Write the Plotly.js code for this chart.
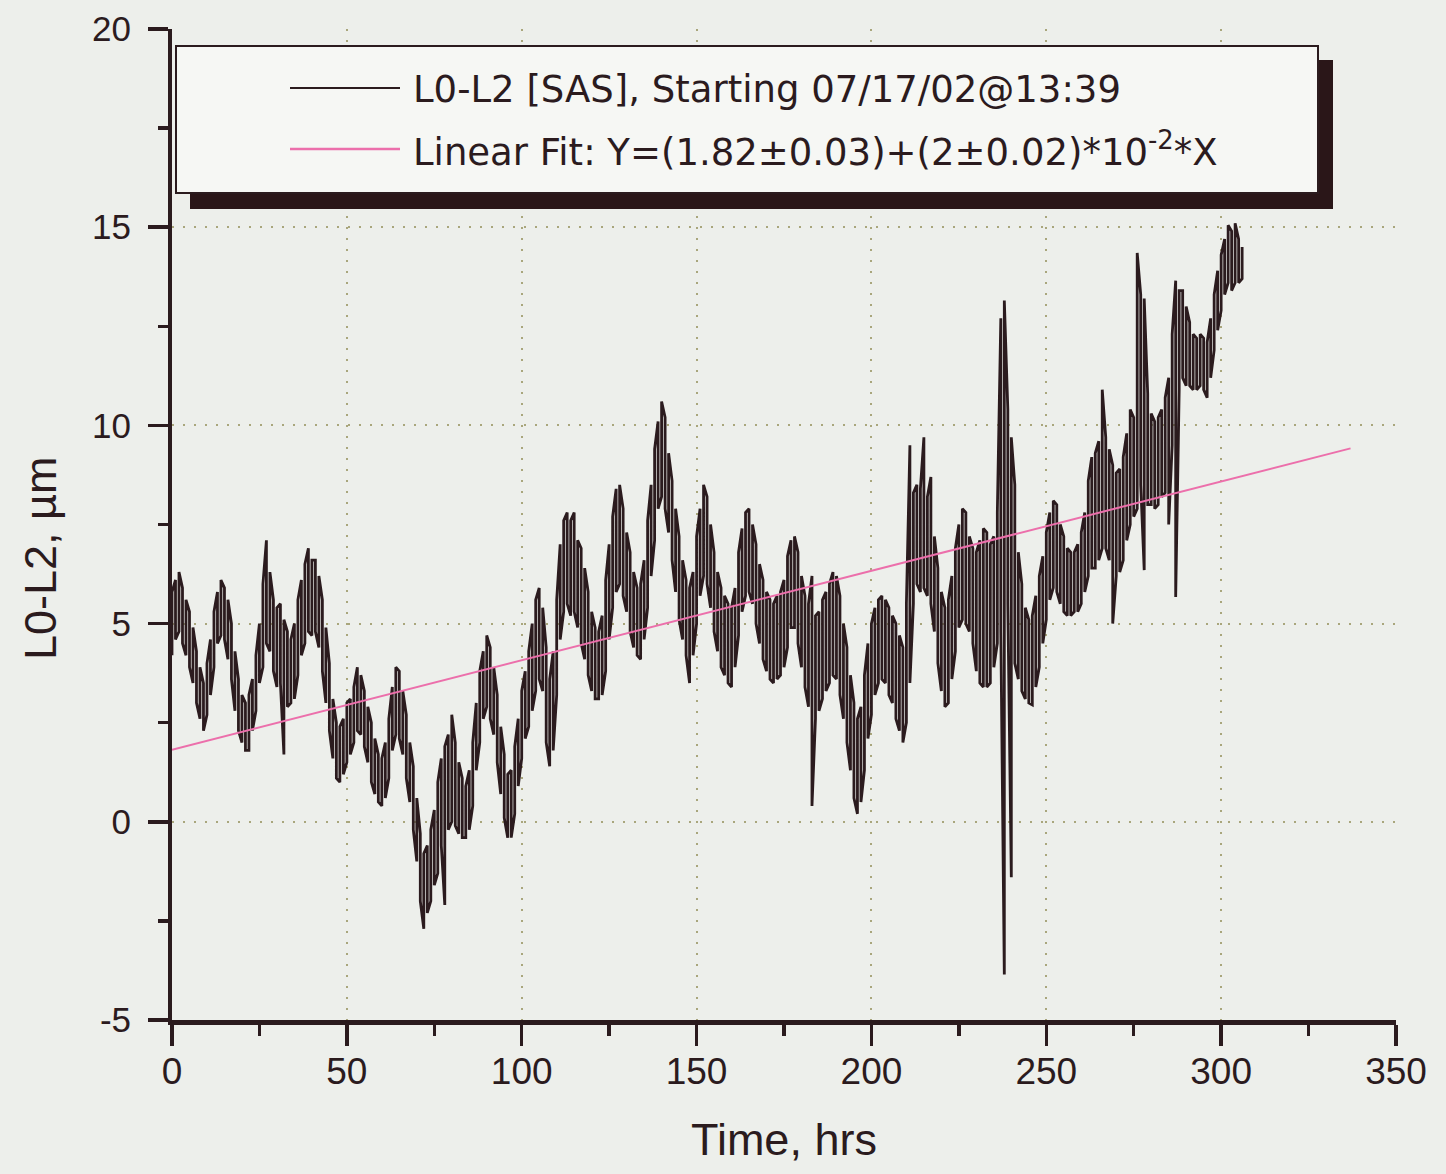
<!DOCTYPE html>
<html>
<head>
<meta charset="utf-8">
<script src="https://cdn.plot.ly/plotly-3.0.1.min.js"></script>
<style>
  html, body { margin: 0; padding: 0; background: #edefeb; }
  #chart { width: 1446px; height: 1174px; }
</style>
</head>
<body>
<div id="chart"></div>
<script>
// ---- Data ----
const hours = [
  0,1,2,3,4,5,6,7,8,9,10,11,12,13,14,15,16,17,18,19,
  20,21,22,23,24,25,26,27,28,29,30,31,32,33,34,35,36,37,38,39,
  40,41,42,43,44,45,46,47,48,49,50,51,52,53,54,55,56,57,58,59,
  60,61,62,63,64,65,66,67,68,69,70,71,72,73,74,75,76,77,78,79,
  80,81,82,83,84,85,86,87,88,89,90,91,92,93,94,95,96,97,98,99,
  100,101,102,103,104,105,106,107,108,109,110,111,112,113,114,115,116,117,118,119,
  120,121,122,123,124,125,126,127,128,129,130,131,132,133,134,135,136,137,138,139,
  140,141,142,143,144,145,146,147,148,149,150,151,152,153,154,155,156,157,158,159,
  160,161,162,163,164,165,166,167,168,169,170,171,172,173,174,175,176,177,178,179,
  180,181,182,183,184,185,186,187,188,189,190,191,192,193,194,195,196,197,198,199,
  200,201,202,203,204,205,206,207,208,209,210,211,212,213,214,215,216,217,218,219,
  220,221,222,223,224,225,226,227,228,229,230,231,232,233,234,235,236,237,238,239,
  240,241,242,243,244,245,246,247,248,249,250,251,252,253,254,255,256,257,258,259,
  260,261,262,263,264,265,266,267,268,269,270,271,272,273,274,275,276,277,278,279,
  280,281,282,283,284,285,286,287,288,289,290,291,292,293,294,295,296,297,298,299,
  300,301,302,303,304,305,306
];

// lower edge of the noisy L0-L2 trace at each hour (µm)
const lowL0L2 = [
  4.2,4.6,4.8,4.5,4.2,3.9,3.5,3.0,2.6,2.3,
  2.7,3.2,3.9,4.5,4.7,4.6,4.1,3.6,2.8,2.3,
  2.0,1.8,1.8,2.3,2.8,3.5,3.9,4.5,4.3,3.8,
  3.4,3.5,1.7,2.9,3.0,3.1,3.7,4.2,4.5,4.8,
  4.7,4.8,4.4,3.8,3.0,2.3,1.6,1.1,1.0,1.2,
  1.5,1.7,2.0,2.3,2.2,1.9,1.5,1.0,0.7,0.5,
  0.4,0.6,1.1,1.8,2.2,2.1,1.7,1.1,0.5,-0.2,
  -1.0,-2.0,-2.7,-2.3,-2.0,-1.6,-1.3,-0.6,-2.1,-0.2,
  0.0,-0.1,-0.3,-0.4,-0.4,-0.2,0.4,1.3,2.0,2.6,
  2.9,2.6,2.2,1.5,0.7,0.1,-0.4,-0.4,0.2,0.9,
  1.6,2.1,2.4,2.8,3.3,3.6,3.3,2.0,1.4,1.8,
  3.2,4.6,5.3,5.5,5.2,5.3,4.9,4.5,4.1,3.7,
  3.3,3.1,3.1,3.2,3.8,4.6,5.4,5.8,6.0,5.7,
  5.3,4.8,4.4,4.2,4.1,4.6,5.4,6.2,7.1,7.9,
  8.2,7.9,7.3,6.6,5.8,5.1,4.6,4.2,3.5,4.2,
  5.0,5.7,6.2,6.0,5.4,4.8,4.3,3.9,3.7,3.5,
  3.4,3.9,4.7,5.3,5.7,5.8,5.5,5.0,4.5,4.1,
  3.8,3.6,3.5,3.6,3.7,3.9,4.4,4.9,4.9,4.5,
  3.9,3.4,2.9,0.4,2.6,2.8,3.1,3.3,3.5,3.7,
  3.6,3.2,2.6,2.0,1.3,0.6,0.2,0.5,1.3,2.1,
  2.7,3.2,3.5,3.6,3.5,3.2,3.0,2.6,2.3,2.0,
  2.5,3.5,5.5,6.0,5.8,5.9,5.7,5.5,4.8,4.0,
  3.3,2.9,3.0,3.6,4.3,4.9,5.1,5.0,4.8,4.5,
  3.8,3.5,3.4,3.4,3.5,3.9,4.5,4.8,-3.85,5.5,
  -1.4,4.0,3.6,3.3,3.1,3.0,2.95,3.4,3.9,4.5,
  5.1,5.6,5.9,5.8,5.5,5.3,5.2,5.2,5.3,5.3,
  5.5,5.8,6.2,6.4,6.4,6.6,6.9,6.9,6.6,5.0,
  6.2,6.3,6.6,7.1,7.5,7.7,7.9,8.5,6.35,8.0,
  8.0,7.9,8.0,8.2,8.3,7.5,9.5,5.67,10.9,11.2,
  11.0,11.0,10.9,10.9,11.0,10.9,10.7,11.2,11.9,12.4,
  12.9,13.3,13.6,13.4,13.6,13.6,13.7
];

// upper edge of the noisy L0-L2 trace at each hour (µm)
const highL0L2 = [
  5.8,6.1,6.3,5.9,5.6,5.3,4.9,4.3,3.9,3.5,
  4.0,4.6,5.3,5.8,6.1,5.9,5.6,5.0,4.3,3.6,
  3.2,3.0,3.2,3.6,4.2,5.0,6.0,7.1,6.3,5.6,
  5.4,5.5,5.1,4.8,4.6,5.0,5.6,6.1,6.5,6.9,
  6.6,6.6,6.2,5.6,4.9,4.0,3.1,2.5,2.4,2.6,
  3.0,3.1,3.4,3.9,3.7,3.3,2.9,2.5,2.1,1.7,
  1.6,2.0,2.6,3.4,3.9,3.8,3.3,2.7,2.0,1.4,
  0.6,-0.3,-0.8,-0.6,-0.2,0.3,1.0,1.6,1.9,2.2,
  2.7,2.0,1.5,1.1,0.9,1.3,2.0,3.0,3.8,4.3,
  4.7,4.4,3.9,3.2,2.4,1.7,1.2,1.3,1.9,2.6,
  3.3,3.8,4.3,5.0,5.6,5.9,5.4,4.4,3.6,4.3,
  5.6,7.0,7.6,7.8,7.6,7.8,7.1,6.9,6.4,5.8,
  5.3,4.9,4.8,5.2,6.1,7.0,7.7,8.4,8.5,7.9,
  7.3,6.8,6.3,5.9,6.0,6.6,7.6,8.5,9.4,10.1,
  10.6,10.2,9.3,8.6,7.9,7.2,6.6,6.1,5.9,6.3,
  7.2,7.9,8.5,8.2,7.5,6.8,6.3,5.9,5.7,5.5,
  5.4,5.9,6.8,7.4,7.8,7.9,7.5,7.0,6.5,6.1,
  5.8,5.6,5.5,5.7,5.8,6.1,6.7,7.1,7.2,6.8,
  6.2,5.7,5.5,6.2,5.2,5.3,5.6,5.8,6.0,6.3,
  6.2,5.7,5.0,4.4,3.7,3.0,2.6,2.9,3.7,4.5,
  5.0,5.4,5.6,5.7,5.6,5.4,5.2,5.0,4.7,4.4,
  5.5,9.5,8.3,8.5,8.4,9.7,8.2,8.7,7.2,6.4,
  5.8,5.4,5.6,6.2,6.9,7.5,7.9,7.8,7.2,6.9,
  6.8,7.1,7.4,7.3,7.0,7.2,7.8,12.7,13.15,10.4,
  9.7,8.5,6.8,6.0,5.4,5.1,5.2,5.7,6.2,6.7,
  7.3,7.8,8.1,8.0,7.5,7.2,6.9,6.8,6.8,7.0,
  7.3,7.8,8.6,9.2,9.3,9.6,10.9,9.7,9.4,9.0,
  8.8,8.9,9.2,9.8,10.4,10.2,14.35,13.3,13.2,10.8,
  10.3,10.1,10.2,10.4,10.7,11.2,12.3,13.65,13.4,13.4,
  13.0,12.6,12.3,12.2,12.3,12.2,12.1,12.7,13.3,13.9,
  14.3,14.7,15.05,14.9,15.1,14.7,14.5
];

// Linear fit line as drawn (end points)
const fitHours = [0, 337];
const fitValues = [1.82, 9.42];

const xTickVals = [0, 50, 100, 150, 200, 250, 300, 350];
const yTickVals = [-5, 0, 5, 10, 15, 20];

const seriesName = "L0-L2 [SAS], Starting 07/17/02@13:39";
const fitName = "Linear Fit: Y=(1.82±0.03)+(2±0.02)*10<sup>-2</sup>*X";
const xTitle = "Time, hrs";
const yTitle = "L0-L2, µm";

// ---- Build the noisy trace: a vertical stroke low→high at each reading ----
const traceX = [], traceY = [];
for (let i = 0; i < hours.length; i++) {
  if (i % 2 === 0) {
    traceX.push(hours[i], hours[i]); traceY.push(lowL0L2[i], highL0L2[i]);
  } else {
    traceX.push(hours[i], hours[i]); traceY.push(highL0L2[i], lowL0L2[i]);
  }
}

const ink = "#2b1b1e";
const pink = "#ec6fab";
const bg = "#edefeb";
const gridCol = "#a9a67c";
const sansA = "Liberation Sans, Arial, sans-serif";
const sansL = "DejaVu Sans, sans-serif";

// plot area in pixels (for legend decoration placement)
const L = 172, R = 1396, T = 29, B = 1020;
const px = v => (v - L) / (R - L);
const py = v => (B - v) / (B - T);

const data = [
  { x: traceX, y: traceY, type: "scatter", mode: "lines", name: seriesName,
    line: { color: ink, width: 2.8 }, showlegend: false, hoverinfo: "skip" },
  { x: fitHours, y: fitValues, type: "scatter", mode: "lines", name: "Linear Fit",
    line: { color: pink, width: 2 }, showlegend: false }
];

const layout = {
  width: 1446, height: 1174,
  paper_bgcolor: bg, plot_bgcolor: bg,
  margin: { l: L, r: 1446 - R, t: T, b: 1174 - B },
  showlegend: false,
  font: { family: sansA, color: ink },
  xaxis: {
    range: [0, 350], tickvals: xTickVals, ticktext: xTickVals.map(String),
    showline: true, linecolor: ink, linewidth: 4.5,
    ticks: "outside", ticklen: 21, tickwidth: 3.5, tickcolor: ink,
    minor: { dtick: 25, tick0: 0, ticks: "outside", ticklen: 11, tickwidth: 3.5, tickcolor: ink, showgrid: false },
    showgrid: true, gridcolor: gridCol, gridwidth: 2, griddash: "2px,9px",
    zeroline: false, mirror: false,
    ticklabelstandoff: -6,
    tickfont: { family: sansA, size: 37, color: ink },
    title: { text: xTitle, font: { family: sansA, size: 45, color: ink }, standoff: 34 }
  },
  yaxis: {
    range: [-5, 20], tickvals: yTickVals, ticktext: yTickVals.map(String),
    showline: true, linecolor: ink, linewidth: 4,
    ticks: "outside", ticklen: 20, tickwidth: 3.5, tickcolor: ink,
    minor: { dtick: 2.5, tick0: 0, ticks: "outside", ticklen: 10, tickwidth: 3.5, tickcolor: ink, showgrid: false },
    showgrid: true, gridcolor: gridCol, gridwidth: 2, griddash: "2px,9px",
    zeroline: false, mirror: false,
    ticklabelstandoff: 10,
    tickfont: { family: sansA, size: 35, color: ink }
  },
  shapes: [
    // legend shadow
    { type: "rect", xref: "paper", yref: "paper", layer: "above",
      x0: px(190), x1: px(1333), y0: py(209), y1: py(60),
      fillcolor: "#2a1618", line: { width: 0 } },
    // legend box
    { type: "rect", xref: "paper", yref: "paper", layer: "above",
      x0: px(176), x1: px(1318), y0: py(193), y1: py(46),
      fillcolor: "#f6f7f4", line: { color: ink, width: 2 } },
    // legend samples
    { type: "line", xref: "paper", yref: "paper", layer: "above",
      x0: px(290), x1: px(400), y0: py(88), y1: py(88),
      line: { color: ink, width: 2 } },
    { type: "line", xref: "paper", yref: "paper", layer: "above",
      x0: px(290), x1: px(400), y0: py(149), y1: py(149),
      line: { color: pink, width: 2.5 } }
  ],
  annotations: [
    { xref: "paper", yref: "paper", x: px(411), y: py(90), xanchor: "left", yanchor: "middle",
      text: seriesName, showarrow: false, font: { family: sansL, size: 37, color: ink } },
    { xref: "paper", yref: "paper", x: px(411), y: py(150), xanchor: "left", yanchor: "middle",
      text: fitName, showarrow: false, font: { family: sansL, size: 37, color: ink } },
    // y-axis title (placed off-centre as in the reference)
    { xref: "paper", yref: "paper", x: px(40), y: py(558), xanchor: "center", yanchor: "middle",
      text: yTitle, textangle: -90, showarrow: false, font: { family: sansA, size: 45, color: ink } }
  ]
};

Plotly.newPlot("chart", data, layout, { displayModeBar: false, staticPlot: true });
</script>
</body>
</html>
